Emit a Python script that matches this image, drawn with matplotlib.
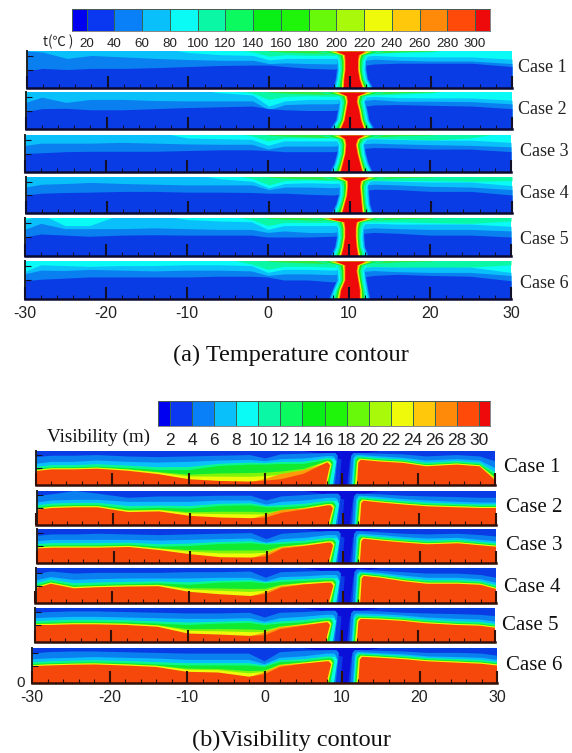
import numpy as np
import matplotlib
matplotlib.use('Agg')
import matplotlib.pyplot as plt
from matplotlib.colors import ListedColormap, BoundaryNorm

W, H = 572, 753
plt.rcParams['font.family'] = ['Liberation Sans', 'DejaVu Sans']
plt.rcParams['axes.unicode_minus'] = False

cases = ['Case 1', 'Case 2', 'Case 3', 'Case 4', 'Case 5', 'Case 6']
x_ticks = [-30, -20, -10, 0, 10, 20, 30]

# colour bars
bar_colors = ['#0000f0', '#0a37f0', '#0a80f8', '#0ac0fa', '#0afaf5', '#0af8a5',
              '#0afa60', '#08f015', '#1ef50a', '#68f80a', '#a8fa0a', '#eefa0a',
              '#ffc80a', '#ff8a0a', '#ff4a0a', '#ee0a0a']
t_levels = [9.5, 20, 40, 60, 80, 100, 120, 140, 160, 180, 200, 220, 240, 260, 280, 300, 310.5]
t_labels = [20, 40, 60, 80, 100, 120, 140, 160, 180, 200, 220, 240, 260, 280, 300]
v_levels = [0.9, 2, 4, 6, 8, 10, 12, 14, 16, 18, 20, 22, 24, 26, 28, 30, 31]
v_labels = [2, 4, 6, 8, 10, 12, 14, 16, 18, 20, 22, 24, 26, 28, 30]

# temperature panels, fraction of panel height at each x knot
T_X = [-30, -28, -25, -22, -18, -14, -10, -6, -2, 0, 2, 5, 8, 13, 16, 20, 25, 30]
T_DARK = [
    [.47, .53, .50, .53, .53, .55, .58, .61, .62, .62, .58, .53, .51, .65, .67, .67, .67, .58],
    [.47, .55, .56, .52, .52, .55, .58, .60, .62, .55, .52, .50, .50, .65, .66, .64, .62, .55],
    [.50, .52, .55, .56, .56, .56, .58, .60, .60, .58, .55, .55, .55, .66, .65, .62, .62, .55],
    [.50, .55, .57, .58, .60, .60, .58, .58, .57, .55, .55, .52, .50, .66, .65, .60, .60, .50],
    [.50, .58, .55, .52, .55, .56, .55, .55, .55, .50, .50, .50, .52, .62, .60, .55, .55, .50],
    [.48, .52, .55, .58, .58, .58, .58, .60, .60, .58, .50, .50, .45, .62, .65, .62, .60, .48],
]
T_MID = [
    [1.0, .97, .80, .88, .84, .80, .77, .75, .75, .66, .68, .66, .65, .78, .75, .73, .73, .66],
    [.72, .86, .72, .80, .80, .77, .76, .76, .76, .52, .66, .68, .68, .80, .75, .75, .74, .68],
    [.72, .78, .78, .78, .80, .78, .76, .75, .75, .62, .70, .70, .70, .78, .76, .74, .72, .68],
    [.72, .80, .82, .85, .82, .80, .78, .78, .78, .65, .72, .72, .70, .80, .78, .74, .72, .65],
    [.70, .86, .72, .72, .72, .74, .72, .70, .70, .62, .66, .62, .62, .74, .72, .70, .70, .66],
    [.66, .76, .75, .78, .76, .74, .76, .76, .74, .62, .66, .66, .64, .75, .72, .70, .70, .62],
]
T_LIGHT = [
    [1.1, 1.1, 1.1, 1.1, 1.1, 1.1, .96, .90, .88, .76, .80, .80, .80, .88, .85, .84, .84, .78],
    [1.1, 1.1, 1.1, 1.1, 1.1, 1.1, 1.1, .98, .92, .62, .76, .80, .80, .88, .85, .84, .84, .78],
    [1.1, 1.1, 1.1, 1.1, 1.1, 1.1, .92, .90, .88, .72, .84, .84, .84, .90, .88, .86, .86, .80],
    [1.1, 1.1, 1.1, 1.1, 1.1, 1.1, 1.1, .95, .88, .70, .82, .84, .82, .90, .88, .86, .86, .76],
    [.94, 1.1, .80, .80, 1.1, 1.1, .96, .92, .90, .70, .80, .80, .80, .86, .84, .84, .84, .78],
    [.72, .90, .88, .86, .88, .88, .90, .90, .88, .70, .78, .78, .76, .85, .84, .84, .84, .70],
]
T_AQUA = [
    [1.1, 1.1, 1.1, 1.1, 1.1, 1.1, 1.1, 1.1, .97, .86, .90, .88, .88, .95, .96, .98, 1.1, 1.1],
    [1.1, 1.1, 1.1, 1.1, 1.1, 1.1, 1.1, 1.1, .97, .80, .88, .90, .88, .92, .94, .98, 1.1, 1.1],
    [1.1, 1.1, 1.1, 1.1, 1.1, 1.1, 1.1, 1.1, .98, .84, .92, .92, .92, .92, .90, .86, .92, 1.1],
    [1.1, 1.1, 1.1, 1.1, 1.1, 1.1, 1.1, 1.1, .96, .78, .90, .92, .90, .90, .90, .90, .88, .90],
    [1.1, 1.1, 1.1, 1.1, 1.1, 1.1, 1.1, 1.1, .96, .80, .88, .88, .88, .90, .90, .88, .86, .92],
    [1.1, 1.1, 1.1, 1.1, 1.1, 1.1, 1.1, 1.1, .92, .78, .86, .86, .84, .84, .84, .80, .84, .90],
]
# green strip along the ceiling either side of the fire
T_CEILING = [1.1, 1.1, 1.1, 1.1, 1.1, 1.1, 1.1, 1.1, 1.1, 1.0, .97, .95, .93, .94, .98, 1.0, 1.1, 1.1]
# fire plume edges at each height knot
T_Y = [0, .25, .5, .75, .9, 1]
T_CORE_L = [
    [9.15, 9.2, 9.35, 9.35, 9.3, 8.2],
    [8.8, 9.3, 9.5, 9.7, 9.6, 8.6],
    [8.9, 9.2, 9.5, 9.6, 9.5, 8.8],
    [9.0, 9.3, 9.6, 9.7, 9.7, 8.9],
    [9.0, 9.3, 9.5, 9.5, 9.4, 7.4],
    [8.8, 9.0, 9.5, 9.5, 9.5, 8.3],
]
T_CORE_R = [
    [11.5, 11.1, 10.9, 10.9, 11.0, 11.8],
    [11.7, 11.3, 11.1, 10.8, 10.9, 12.0],
    [11.6, 11.3, 11.0, 10.8, 11.0, 11.8],
    [11.5, 11.4, 11.3, 11.2, 11.3, 12.2],
    [11.1, 10.9, 10.8, 10.8, 10.9, 12.2],
    [11.3, 11.3, 11.1, 10.9, 11.0, 12.0],
]
# halo width outside the core, outermost band first
T_HALO_COLORS = ['#0a80f0', '#0ac0fa', '#0afaf5', '#0af8a5', '#20e820', '#eefa0a', '#ff8a0a']
T_HALOS = [
    [1.3, 1.05, 1.05, 1.0, .5, 0],
    [1.15, .95, .95, 1.0, .9, .5],
    [1.0, .8, .8, .9, 1.2, 1.6],
    [.8, .6, .6, .7, 1.0, 2.6],
    [.55, .42, .42, .45, .6, 1.6],
    [.25, .22, .22, .22, .3, .8],
    [.1, .1, .1, .1, .15, .3],
]
T_EXT = [(26.6, 512, 51, 88), (25.5, 512, 92, 129), (25, 511, 135, 172),
         (25.5, 512, 177, 213), (24.5, 511, 218, 256), (24.5, 511, 261, 299)]
T_CASE_POS = [(518, 68), (518, 109), (520, 152), (520, 194), (520, 239), (520, 283)]

# visibility panels
V_XL = [-30, -28, -25, -22, -18, -14, -10, -6, -2, 0, 2, 5, 8]
V_XR = [12.5, 15, 18, 21, 25, 28, 30]
V_ORANGE = [
    [.41, .46, .46, .48, .42, .32, .17, .12, .10, .13, .17, .33, .66, .74, .69, .65, .55, .60, .55, .15],
    [.45, .50, .52, .52, .38, .40, .27, .22, .20, .22, .36, .46, .58, .72, .66, .60, .55, .52, .50, .50],
    [.43, .45, .45, .45, .47, .38, .26, .17, .16, .20, .42, .50, .60, .72, .66, .60, .55, .58, .52, .48],
    [.42, .55, .42, .45, .47, .48, .32, .25, .20, .26, .44, .53, .58, .78, .72, .62, .55, .55, .52, .40],
    [.50, .50, .52, .52, .50, .45, .25, .22, .18, .20, .38, .48, .58, .68, .66, .62, .55, .50, .48, .42],
    [.48, .50, .52, .53, .50, .46, .32, .30, .18, .25, .46, .55, .62, .75, .72, .68, .62, .58, .55, .50],
]
# paler orange patch just right of the portal
V_AMBER_X = [-2, 0, 2, 5, 8]
V_AMBER = [
    [.10, .20, .34, .45, .66],
    [.20, .32, .46, .50, .58],
    [.16, .30, .48, .53, .60],
    [.20, .34, .50, .55, .58],
    [.18, .30, .45, .52, .58],
    [.18, .33, .52, .57, .62],
]
V_GREEN = [
    [.47, .52, .52, .54, .50, .44, .44, .56, .60, .60, .62, .62, .74, .80, .75, .71, .61, .66, .61, .30],
    [.52, .57, .59, .59, .48, .50, .48, .56, .58, .52, .52, .56, .66, .78, .72, .66, .61, .58, .56, .56],
    [.50, .52, .52, .52, .54, .48, .50, .56, .58, .54, .56, .60, .68, .78, .72, .66, .61, .64, .58, .54],
    [.50, .62, .50, .52, .54, .56, .52, .58, .60, .56, .60, .63, .66, .84, .78, .68, .61, .61, .58, .46],
    [.56, .57, .59, .59, .58, .54, .50, .54, .56, .50, .54, .58, .66, .74, .72, .68, .61, .56, .54, .48],
    [.54, .56, .58, .59, .57, .53, .50, .50, .50, .46, .60, .62, .70, .81, .78, .74, .68, .64, .61, .56],
]
V_LIGHT = [
    [.62, .68, .68, .72, .68, .66, .68, .72, .74, .70, .76, .78, .85, .88, .84, .80, .72, .76, .72, .50],
    [.66, .72, .74, .74, .68, .68, .68, .72, .72, .60, .68, .72, .80, .86, .82, .76, .72, .68, .66, .66],
    [.64, .68, .68, .68, .68, .66, .68, .70, .72, .60, .70, .74, .82, .86, .82, .76, .72, .74, .68, .64],
    [.64, .74, .66, .68, .70, .70, .70, .72, .72, .62, .74, .76, .80, .90, .86, .78, .72, .72, .68, .58],
    [.70, .72, .74, .74, .72, .70, .68, .68, .70, .60, .70, .74, .80, .84, .82, .78, .72, .68, .66, .60],
    [.68, .70, .72, .74, .72, .70, .66, .66, .66, .54, .72, .76, .84, .88, .85, .82, .76, .74, .72, .66],
]
V_MID = [
    [.82, .86, .86, .88, .84, .82, .84, .86, .88, .78, .90, .92, .94, .94, .92, .90, .84, .88, .84, .70],
    [.86, .90, 1.0, .92, .80, .84, .84, .86, .86, .72, .84, .88, .92, .92, .90, .86, .84, .82, .80, .80],
    [.80, .84, .84, .86, .84, .82, .84, .86, .88, .70, .86, .90, .94, .94, .90, .86, .84, .86, .82, .78],
    [.82, .90, .84, .86, .86, .86, .88, .88, .90, .72, .88, .90, .92, .96, .92, .88, .84, .84, .80, .72],
    [.86, .88, .90, .90, .88, .86, .84, .84, .86, .72, .86, .88, .92, .92, .90, .86, .84, .82, .80, .76],
    [.84, .88, .90, .90, .88, .86, .84, .84, .84, .62, .88, .92, .94, .94, .92, .90, .86, .86, .84, .78],
]
# plume valley edges as (bottom x, top x), left and right of the fire
V_EDGE_ORANGE = [(8.1, 8.7), (12.2, 12.4)]
V_EDGE_YELLOW = [(8.3, 8.9), (12.0, 12.25)]
V_EDGE_GREEN = [(8.6, 9.1), (11.8, 12.05)]
V_EDGE_LIGHT = [(8.95, 9.4), (11.5, 11.75)]
V_EDGE_MID = [(9.3, 9.7), (11.2, 11.45)]
V_SHIFT = [-.25, 0, 0, .1, -.2, -.1]
V_EXT = [(35.8, 495, 451, 485), (36.5, 496, 491, 525), (37, 496, 529, 563),
         (35.5, 496, 568, 603), (34.5, 495, 608, 642), (32, 497, 648, 683)]
V_CASE_POS = [(504, 468), (506, 508), (506, 545), (504, 587), (502, 625), (506, 666)]


def add_ax(l, r, t, b):
    return fig.add_axes([l / W, 1 - b / H, (r - l) / W, (b - t) / H])


def style_panel(ax, last, bottom_color):
    ax.set_xlim(-30, 30)
    ax.set_ylim(0, 1)
    ax.set_xticks(x_ticks)
    ax.set_xticks(np.arange(-30, 31, 2), minor=True)
    ax.set_yticks([.5, .87])
    ax.set_yticklabels([])
    ax.tick_params(axis='x', which='major', direction='in', length=9, width=1.5, color='#10102a',
                   labelbottom=last, labelsize=11.5, pad=5, labelcolor='#222222')
    ax.tick_params(axis='x', which='minor', direction='in', length=3, width=.8, color='#10102a')
    ax.tick_params(axis='y', direction='in', length=4, width=.8, color='#10102a')
    ax.spines['top'].set_visible(False)
    ax.spines['right'].set_visible(False)
    ax.spines['bottom'].set_linewidth(1.8)
    ax.spines['bottom'].set_color(bottom_color)
    ax.spines['left'].set_linewidth(1.4)
    ax.spines['left'].set_color('#222222')
    ax.set_axisbelow(False)


def colorbar(ext, levels, labels, size):
    ax = add_ax(*ext)
    cmap = ListedColormap(bar_colors)
    norm = BoundaryNorm(levels, cmap.N)
    ax.pcolormesh(levels, [0, 1], np.array([levels[:-1]]) + .01, cmap=cmap, norm=norm,
                  edgecolors='#336655', linewidth=.4)
    ax.set_xlim(levels[0], levels[-1])
    ax.set_yticks([])
    ax.set_xticks(labels)
    ax.tick_params(axis='x', length=0, labelsize=size, pad=5, labelcolor='#222222')
    for s in ax.spines.values():
        s.set_linewidth(.5)
        s.set_color('#555555')
    return ax


def draw_temperature(i):
    ax = add_ax(*T_EXT[i])
    ax.set_facecolor('#0afaf5')
    ax.fill_between(T_X, 1.1, T_AQUA[i], color='#0af8a5', lw=0)
    ax.fill_between(T_X, 1.1, T_CEILING, color='#30e840', lw=0)
    ax.fill_between(T_X, 0, T_LIGHT[i], color='#0ac0fa', lw=0)
    ax.fill_between(T_X, 0, T_MID[i], color='#0a80f0', lw=0)
    ax.fill_between(T_X, 0, T_DARK[i], color='#0a3ce6', lw=0)
    left = np.array(T_CORE_L[i])
    right = np.array(T_CORE_R[i])
    for color, halo in zip(T_HALO_COLORS, T_HALOS):
        ax.fill_betweenx(T_Y, left - np.array(halo), right + np.array(halo), color=color, lw=0)
    ax.fill_betweenx(T_Y, left, right, color='#ee0a0a', lw=0)
    style_panel(ax, i == 5, '#0a0a30')
    fig.text(T_CASE_POS[i][0] / W, 1 - T_CASE_POS[i][1] / H, cases[i], family='Liberation Serif',
             fontsize=13, va='center', color='#222222')


def valley_fill(ax, ys, edges, shift, color):
    # band from the floor up to ys, cut open at the plume
    yl = ys[:len(V_XL)]
    yr = ys[len(V_XL):]
    lt = edges[0][1] + shift
    rt = edges[1][1] + shift
    ax.fill(V_XL + [lt - .3, lt, edges[0][0] + shift, -30],
            yl + [yl[-1], yl[-1] - .08, 0, 0], color=color, lw=0)
    ax.fill([edges[1][0] + shift, rt, rt + .3] + V_XR + [30],
            [0, yr[0] - .08, yr[0]] + yr + [0], color=color, lw=0)


def draw_visibility(i):
    ax = add_ax(*V_EXT[i])
    ax.set_facecolor('#0a3ce6')
    s = V_SHIFT[i]
    # darkest part over and inside the plume
    ax.fill([5, 15, 13, 11.3 + s, 10.9 + s, 9.9 + s, 10.2 + s, 7], [1, 1, .93, .75, 0, 0, .75, .93], color='#0a10d8', lw=0)
    o = V_ORANGE[i]
    g = V_GREEN[i]
    li = V_LIGHT[i]
    valley_fill(ax, V_MID[i], V_EDGE_MID, s, '#0a80f0')
    valley_fill(ax, li, V_EDGE_LIGHT, s, '#0ac0fa')
    valley_fill(ax, [(a + 2 * b) / 3 for a, b in zip(li, g)], V_EDGE_LIGHT, s + .12, '#0afae0')
    valley_fill(ax, [(2 * a + b) / 3 + .01 for a, b in zip(g, li)], V_EDGE_GREEN, s - .1, '#0af890')
    valley_fill(ax, g, V_EDGE_GREEN, s, '#10ea30')
    valley_fill(ax, [(a + b) / 2 for a, b in zip(o, g)], V_EDGE_YELLOW, s - .05, '#80f50a')
    valley_fill(ax, [(3 * a + b) / 4 + .015 for a, b in zip(o, g)], V_EDGE_YELLOW, s, '#eefa0a')
    ax.fill_between(V_AMBER_X, 0, V_AMBER[i], color='#ff9a0a', lw=0)
    valley_fill(ax, o, V_EDGE_ORANGE, s, '#f5480a')
    style_panel(ax, i == 5, '#301008')
    ax.tick_params(axis='x', which='both', color='#301008')
    fig.text(V_CASE_POS[i][0] / W, 1 - V_CASE_POS[i][1] / H, cases[i], family='Liberation Serif',
             fontsize=15, va='center', color='#111111')


fig = plt.figure(figsize=(W / 100, H / 100), dpi=100)

colorbar((72.2, 489.6, 9, 31), t_levels, t_labels, 9.6)
colorbar((158, 490, 401, 426), v_levels, v_labels, 12.5)

for i in range(6):
    draw_temperature(i)
    draw_visibility(i)

fig.text(43 / W, 1 - 42 / H, 't(℃ )', fontsize=9.6, va='center', color='#222222',
         family=['Noto Sans CJK SC', 'DejaVu Sans'])
fig.text(47 / W, 1 - 437 / H, 'Visibility (m)', fontsize=13.8, va='center', family='Liberation Serif', color='#111111')
fig.text(16 / W, 1 - 683 / H, '0', fontsize=11, va='center', color='#222222')
fig.text(290.5 / W, 1 - 355 / H, '(a) Temperature contour', fontsize=17.5, ha='center', va='center',
         family='Liberation Serif', color='#111111')
fig.text(291 / W, 1 - 740 / H, '(b)Visibility contour', fontsize=17.5, ha='center', va='center',
         family='Liberation Serif', color='#111111')

fig.savefig('out.png', dpi=100)
